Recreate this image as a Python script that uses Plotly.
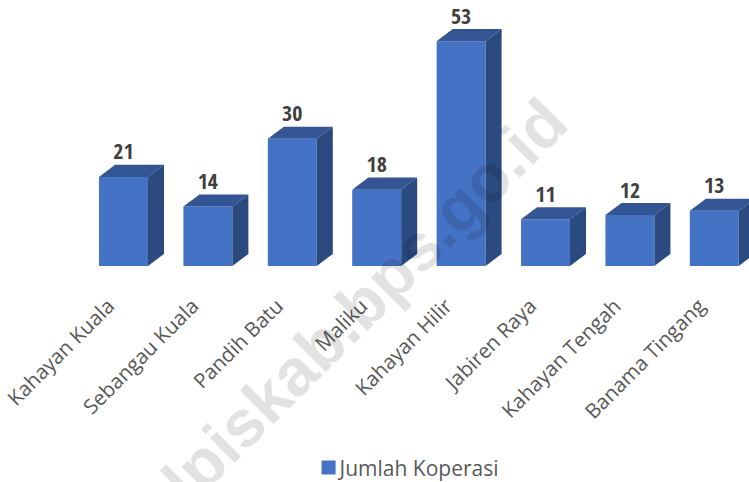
import plotly.graph_objects as go

categories = ["Kahayan Kuala", "Sebangau Kuala", "Pandih Batu", "Maliku",
              "Kahayan Hilir", "Jabiren Raya", "Kahayan Tengah", "Banama Tingang"]
values = [21, 14, 30, 18, 53, 11, 12, 13]
series_name = "Jumlah Koperasi"

FRONT, TOP, SIDE = "#4472C4", "#335593", "#2A4A80"
W = 0.58
DX, DY = 0.19, 2.85
xs = list(range(len(values)))

fig = go.Figure()
fig.add_bar(x=xs, y=values, width=W, marker=dict(color=FRONT, line=dict(width=0)),
            name=series_name, showlegend=True, hoverinfo="skip")
for x, v in zip(xs, values):
    l, r = x - W / 2, x + W / 2
    fig.add_scatter(x=[l, r, r + DX, l + DX, l], y=[v, v, v + DY, v + DY, v], mode="lines",
                    fill="toself", fillcolor=TOP, line=dict(width=0), showlegend=False, hoverinfo="skip")
    fig.add_scatter(x=[r, r + DX, r + DX, r, r], y=[0, DY, v + DY, v, 0], mode="lines",
                    fill="toself", fillcolor=SIDE, line=dict(width=0), showlegend=False, hoverinfo="skip")
fig.add_scatter(x=xs, y=[v + DY for v in values], mode="text", text=[str(v) for v in values],
                textposition="top center", showlegend=False, hoverinfo="skip",
                textfont=dict(family="Open Sans Condensed, Liberation Sans Narrow, Liberation Sans", size=22, color="#404040", weight="bold"))

fig.add_annotation(text="pulpiskab.bps.go.id", xref="paper", yref="paper", x=0.449, y=-0.237,
                   xanchor="center", yanchor="middle",
                   showarrow=False, textangle=-45, opacity=0.11,
                   font=dict(family="Liberation Sans", size=66, color="#000000", weight="bold"))

fig.update_layout(
    width=749, height=482, autosize=False, paper_bgcolor="white", plot_bgcolor="white",
    margin=dict(l=0, r=0, t=0, b=216, autoexpand=False),
    font=dict(family="Open Sans", color="#595959"),
    xaxis=dict(range=[-1.463, 7.411], tickvals=xs, ticktext=categories, tickangle=-45,
               tickfont=dict(size=20.5, color="#595959"), showgrid=False, zeroline=False,
               showline=False, ticks="", ticklen=0, ticklabelshift=-15, ticklabelstandoff=23,
               automargin=False),
    yaxis=dict(range=[0, 62.7], visible=False),
    legend=dict(orientation="h", x=0.5375, y=-0.759, xanchor="center", yanchor="middle",
                font=dict(size=21, color="#595959"), itemwidth=30),
)
post = """
document.body.style.margin='0';
document.querySelectorAll('.legend .legendpoints path').forEach(function(p){
  p.setAttribute('d','M7,7H-7V-7H7Z');
  p.setAttribute('transform','translate(29,0)');
});
"""
fig.write_html("out.html", config=dict(displayModeBar=False), post_script=post)
